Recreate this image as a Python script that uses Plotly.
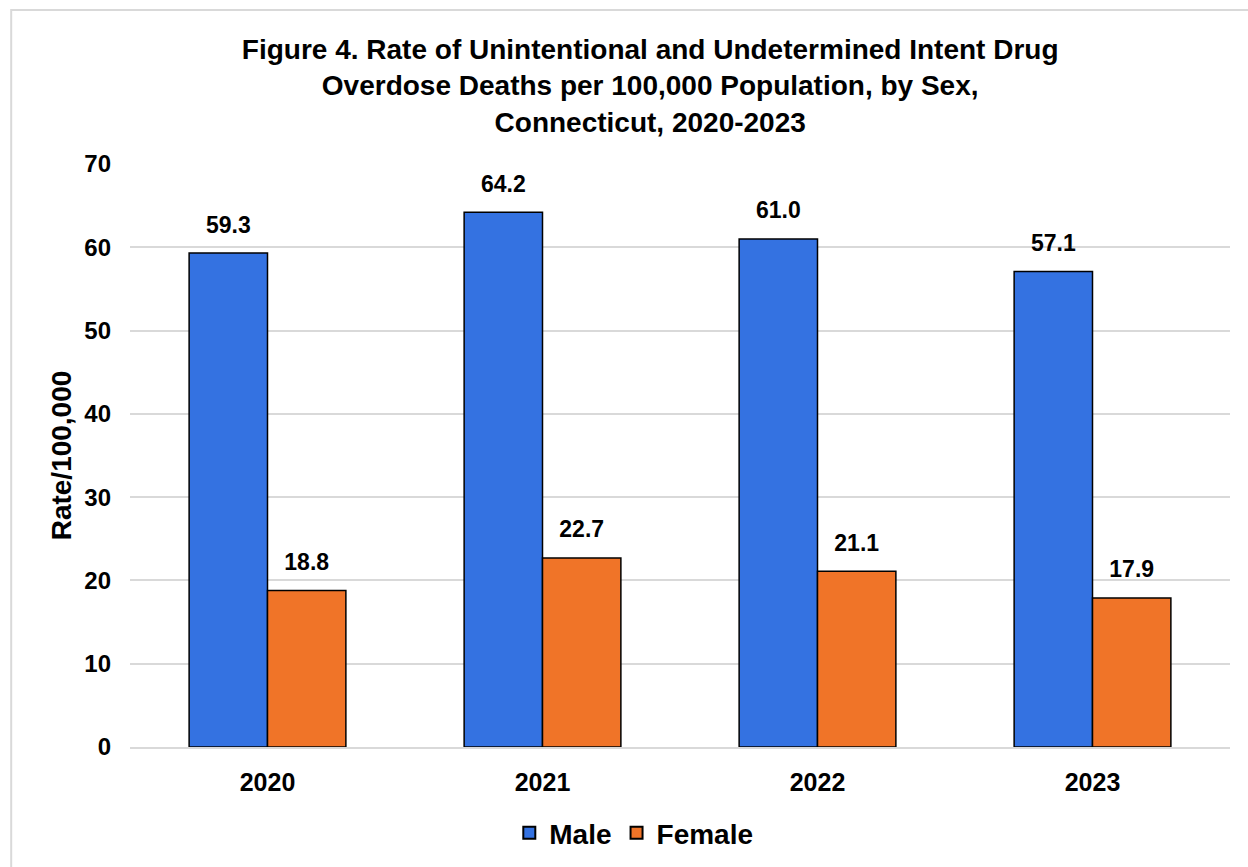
import plotly.graph_objects as go

years = ["2020", "2021", "2022", "2023"]
male = [59.3, 64.2, 61.0, 57.1]
female = [18.8, 22.7, 21.1, 17.9]
y_ticks = [0, 10, 20, 30, 40, 50, 60, 70]

FONT = "Liberation Sans, Arial, sans-serif"
BLUE = "#3472E1"
ORANGE = "#F07428"
GRID = "#D9D9D9"


def bold(size):
    return dict(family=FONT, size=size, color="black", weight="bold")


fig = go.Figure()

for name, vals, color in [("Male", male, BLUE), ("Female", female, ORANGE)]:
    fig.add_trace(go.Bar(
        x=years, y=vals, name=name, offsetgroup=name,
        marker=dict(color=color, line=dict(color="black", width=1.5)),
        hoverinfo="skip",
    ))

# value labels sitting above each bar, grouped the same way as the bars
for name, vals in [("Male", male), ("Female", female)]:
    fig.add_trace(go.Scatter(
        x=years, y=vals, offsetgroup=name, mode="markers+text",
        text=[f"{v:.1f}" for v in vals], textposition="top center",
        textfont=bold(23),
        marker=dict(size=22, opacity=0),
        showlegend=False, hoverinfo="skip", cliponaxis=False,
    ))

fig.update_layout(
    width=1248, height=867,
    margin=dict(l=130, r=18, t=164, b=120, autoexpand=False),
    paper_bgcolor="white", plot_bgcolor="white",
    barmode="group", scattermode="group", bargap=0.43, bargroupgap=0,
    font=dict(family=FONT, color="black"),
    title=dict(
        text="Figure 4. Rate of Unintentional and Undetermined Intent Drug<br>"
             "Overdose Deaths per 100,000 Population, by Sex,<br>"
             "Connecticut, 2020-2023",
        x=0.521, xanchor="center", y=0.932, yanchor="middle",
        font=bold(28),
    ),
    xaxis=dict(
        showgrid=False, showline=True, linecolor=GRID, linewidth=1.5,
        ticks="", ticklabelstandoff=12, automargin=False,
        tickfont=bold(25),
    ),
    yaxis=dict(
        range=[0, 70], tickvals=y_ticks, showgrid=True, gridcolor=GRID, gridwidth=1.5,
        zeroline=False, showline=False, ticks="", ticklabelstandoff=18, automargin=False,
        tickfont=bold(24),
        title=dict(text="Rate/100,000", standoff=4, font=bold(28)),
    ),
    legend=dict(
        orientation="h", x=0.458, xanchor="center", y=-0.1475, yanchor="middle",
        font=bold(28), itemsizing="constant",
        traceorder="normal", itemwidth=30,
    ),
    shapes=[dict(
        type="rect", xref="paper", yref="paper",
        x0=-0.108, x1=1.2, y0=-0.4, y1=1.264,
        line=dict(color=GRID, width=2), fillcolor="rgba(0,0,0,0)", layer="below",
    )],
)

fig.write_html("out.html")
